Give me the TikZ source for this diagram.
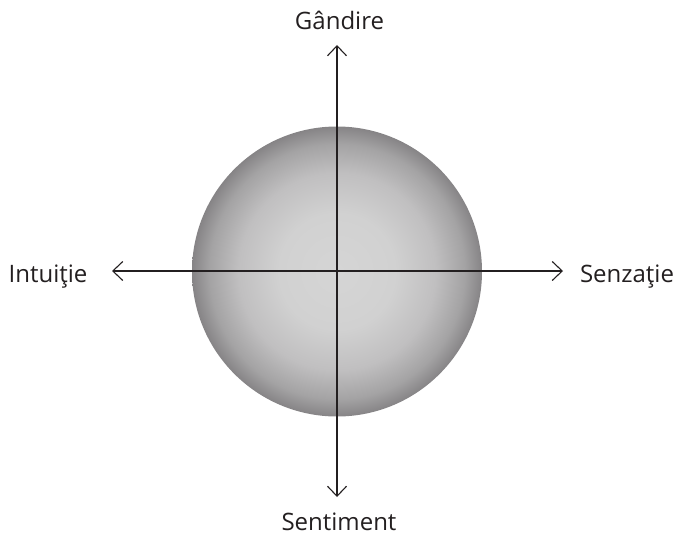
\documentclass[tikz,border=0pt]{standalone}
\usepackage{fontspec}
\setmainfont{Open Sans}
\usetikzlibrary{arrows.meta}
\definecolor{axiscol}{RGB}{35,31,32}
\definecolor{txtcol}{RGB}{35,31,32}
\pgfdeclareradialshading{sphereshade}{\pgfpointorigin}{%
  color(0bp)=(rgb,255:red,213;green,213;blue,213);
  color(10bp)=(rgb,255:red,209;green,209;blue,209);
  color(17bp)=(rgb,255:red,192;green,191;blue,192);
  color(22bp)=(rgb,255:red,164;green,163;blue,164);
  color(25bp)=(rgb,255:red,134;green,132;blue,134);
  color(50bp)=(rgb,255:red,134;green,132;blue,134)}
\tikzset{
  axisline/.style={draw=axiscol, line width=1.25pt,
    {Straight Barb[length=10pt,width=19pt,line width=1.1pt]}-{Straight Barb[length=10pt,width=19pt,line width=1.1pt]}},
  lbl/.style={font=\fontsize{24}{28}\selectfont, text=txtcol, inner sep=0pt, anchor=base},
  sphere/.style={circle, minimum size=290pt, inner sep=0pt, shading=sphereshade}
}
\begin{document}
\begin{tikzpicture}[x=1pt,y=-1pt]
\useasboundingbox (0,0) rectangle (676,535);
\node[sphere] (c) at (337,271.5) {};
\coordinate (top) at (337,45);
\coordinate (bot) at (337,497);
\coordinate (lft) at (112,271);
\coordinate (rgt) at (563,271);
\draw[axisline] (bot) -- (top);
\draw[axisline] (lft) -- (rgt);
\node[lbl] (g) at (339.5,30) {Gândire};
\node[lbl] (s) at (339,530) {Sentiment};
\node[lbl] (i) at (48,282) {Intuiţie};
\node[lbl] (z) at (627,282) {Senzaţie};
\end{tikzpicture}
\end{document}
